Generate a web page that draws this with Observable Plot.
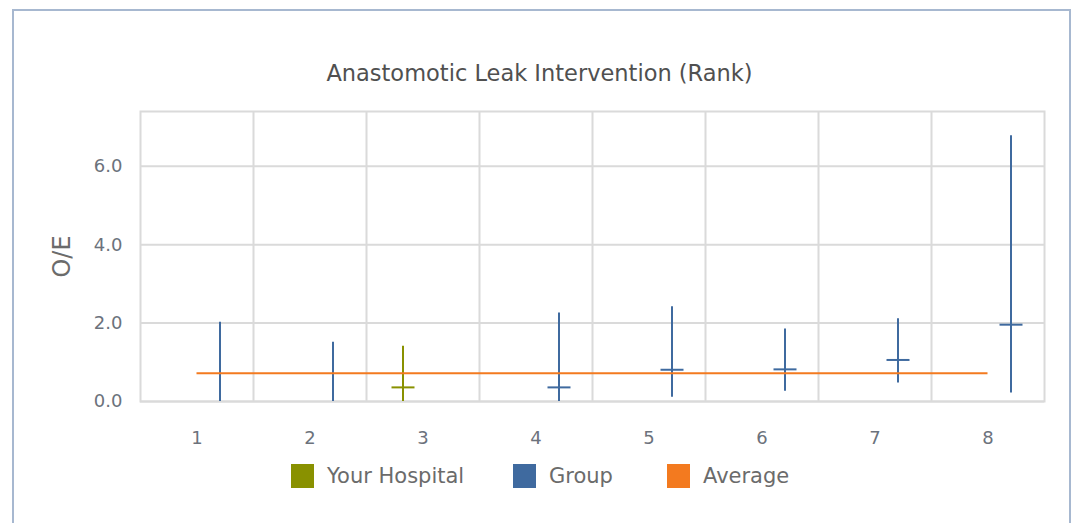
<!DOCTYPE html>
<html>
<head>
<meta charset="utf-8">
<script src="https://cdn.jsdelivr.net/npm/d3@7"></script>
<script src="https://cdn.jsdelivr.net/npm/@observablehq/plot@0.6"></script>
<style>
  html, body { margin: 0; padding: 0; background: #fff; }
  #wrap { position: relative; width: 1079px; height: 523px; overflow: hidden; font-family: "DejaVu Sans", sans-serif; }
  #border { position: absolute; left: 12px; top: 9px; width: 1055px; height: 600px; border: 2px solid #a7b8d0; }
  #title { position: absolute; left: 0; width: 1079px; top: 60px; text-align: center; font-size: 22.5px; color: #505050; line-height: 26px; }
  #chart { position: absolute; left: 0; top: 100px; }
  .leg { position: absolute; top: 464px; display: flex; align-items: center; font-size: 21px; color: #6b6b6b; }
  .sw { width: 23px; height: 24px; margin-right: 13px; }
</style>
</head>
<body>
<div id="wrap">
  <div id="border"></div>
  <div id="title"></div>
  <div id="chart"></div>
  <div id="legend"></div>
</div>
<script>
const titleText = "Anastomotic Leak Intervention (Rank)";
const yLabel = "O/E";
const ranks = [1, 2, 3, 4, 5, 6, 7, 8];
const yTicks = [0, 2, 4, 6];

const hospitalRank = [3];
const hospitalOE = [0.36];
const hospitalLo = [0];
const hospitalHi = [1.41];

const groupRank = [1, 2, 4, 5, 6, 7, 8];
const groupOE = [null, null, 0.36, 0.81, 0.82, 1.06, 1.96];
const groupLo = [0, 0, 0, 0.11, 0.26, 0.47, 0.22];
const groupHi = [2.02, 1.51, 2.26, 2.42, 1.85, 2.11, 6.78];

const averageOE = 0.72;

const seriesNames = ["Your Hospital", "Group", "Average"];
const seriesColors = ["#899100", "#3f6a9f", "#f37a1f"];

const hospital = hospitalRank.map((r, i) => ({rank: r, oe: hospitalOE[i], lo: hospitalLo[i], hi: hospitalHi[i]}));
const group = groupRank.map((r, i) => ({rank: r, oe: groupOE[i], lo: groupLo[i], hi: groupHi[i]}));
const boundaries = ranks.slice(1).map(r => r - 0.5);

const hline = {
  draw(context) {
    const w = 11.5;
    context.moveTo(-w, 0);
    context.lineTo(w, 0);
  }
};

document.getElementById("title").textContent = titleText;

const gridColor = "#dadada";
const tickColor = "#6c727c";

const plot = Plot.plot({
  width: 1079,
  height: 355,
  marginLeft: 140,
  marginRight: 35,
  marginTop: 11,
  marginBottom: 54,
  style: {fontFamily: "DejaVu Sans, sans-serif", background: "transparent"},
  x: {domain: [ranks[0] - 0.5, ranks[ranks.length - 1] + 0.5]},
  y: {domain: [0, 7.4]},
  marks: [
    Plot.gridY(yTicks, {stroke: gridColor, strokeOpacity: 1, strokeWidth: 2}),
    Plot.ruleX(boundaries, {stroke: gridColor, strokeWidth: 2}),
    Plot.frame({stroke: gridColor, strokeWidth: 2}),
    Plot.axisY(yTicks, {tickSize: 0, tickPadding: 18, tickFormat: d3.format(".1f"), fontSize: 18, fill: tickColor, label: yLabel, labelAnchor: "center", labelOffset: 88}),
    Plot.axisX(ranks, {tickSize: 0, tickPadding: 30, fontSize: 18, fill: tickColor, label: null}),
    Plot.ruleX(group, {x: "rank", y1: "lo", y2: "hi", dx: 23, stroke: seriesColors[1], strokeWidth: 2}),
    Plot.dot(group, {x: "rank", y: "oe", dx: 23, symbol: hline, fill: "none", stroke: seriesColors[1], strokeWidth: 2}),
    Plot.ruleX(hospital, {x: "rank", y1: "lo", y2: "hi", dx: -20, stroke: seriesColors[0], strokeWidth: 2}),
    Plot.dot(hospital, {x: "rank", y: "oe", dx: -20, symbol: hline, fill: "none", stroke: seriesColors[0], strokeWidth: 2}),
    Plot.ruleY([averageOE], {x1: ranks[0], x2: ranks[ranks.length - 1], stroke: seriesColors[2], strokeWidth: 2})
  ]
});
document.getElementById("chart").appendChild(plot);

// style y-axis label (plain text, no arrow)
const lab = plot.querySelector('[aria-label="y-axis label"] text');
if (lab) {
  lab.textContent = yLabel;
  lab.setAttribute("font-size", "24px");
  lab.setAttribute("fill", "#6b6b6b");
}

const legendLeft = [291, 513, 667];
const legend = document.getElementById("legend");
seriesNames.forEach((name, i) => {
  const item = document.createElement("div");
  item.className = "leg";
  item.style.left = legendLeft[i] + "px";
  const sw = document.createElement("div");
  sw.className = "sw";
  sw.style.background = seriesColors[i];
  const t = document.createElement("span");
  t.textContent = name;
  item.appendChild(sw);
  item.appendChild(t);
  legend.appendChild(item);
});
</script>
</body>
</html>
